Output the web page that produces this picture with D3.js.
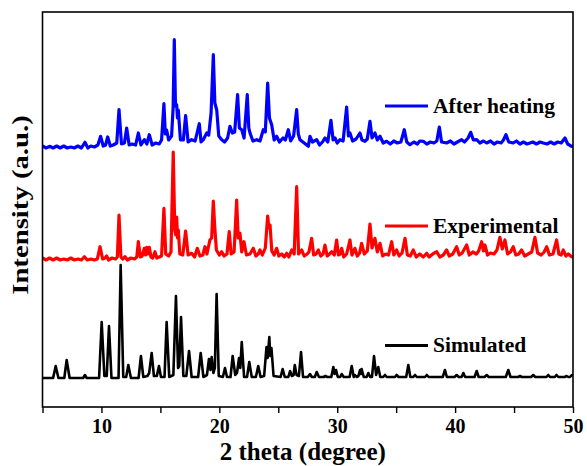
<!DOCTYPE html>
<html>
<head>
<meta charset="utf-8">
<script src="https://cdn.jsdelivr.net/npm/d3@7"></script>
<style>
  html, body { margin: 0; padding: 0; background: #fff; }
  svg { display: block; }
  text { font-family: "Liberation Serif", "Times New Roman", serif; font-weight: bold; fill: #000; }
</style>
</head>
<body>
<script>
// Powder XRD patterns: [2θ (degree), intensity above the pattern's own baseline (a.u.)]
const simulatedPattern = [
  [5.0,0],[5.9,0],[6.12,12],[6.35,0],[6.85,0],[7.05,18],[7.3,0],[8.45,0],[8.6,3],[8.75,0],
  [9.8,0],[10.02,56],[10.25,2],[10.45,2],[10.64,52],[10.85,0],[11.45,0],[11.63,113],[11.85,1],
  [12.1,1],[12.28,13],[12.5,0],[13.15,0],[13.35,22],[13.55,1],[13.9,2],[14.05,5],[14.26,25],
  [14.45,2],[14.7,2],[14.88,12],[15.05,1],[15.35,1],[15.53,56],[15.75,1],[16.1,3],[16.32,82],
  [16.5,10],[16.6,12],[16.75,61],[16.95,2],[17.2,2],[17.43,27],[17.65,1],[18.2,1],[18.42,25],
  [18.65,1],[18.95,3],[19.12,19],[19.25,8],[19.35,21],[19.5,5],[19.62,10],[19.77,84],[19.95,2],
  [20.3,1],[20.48,10],[20.65,1],[20.95,1],[21.13,22],[21.35,3],[21.5,5],[21.67,20],[21.78,10],
  [21.9,36],[22.1,1],[22.35,1],[22.54,16],[22.75,1],[23.1,1],[23.3,12],[23.5,1],[23.8,2],
  [24.0,31],[24.1,20],[24.24,41],[24.32,22],[24.42,30],[24.6,2],[25.2,1],[25.37,9],[25.55,1],
  [25.85,1],[26.0,7],[26.15,2],[26.3,3],[26.4,13],[26.55,3],[26.75,2],[26.93,26],[27.1,1],
  [27.5,1],[27.69,4],[27.85,1],[28.1,1],[28.26,6],[28.45,1],[28.85,1],[29.0,2],[29.15,1],
  [29.5,1],[29.67,11],[29.78,4],[29.9,8],[30.05,1],[30.25,1],[30.38,4],[30.55,1],[31.05,1],
  [31.23,12],[31.4,1],[31.5,3],[31.65,1],[31.8,2],[31.93,8],[32.0,4],[32.07,9],[32.25,1],
  [32.5,1],[32.64,5],[32.8,1],[32.95,1],[33.12,22],[33.3,3],[33.48,11],[33.65,1],[33.9,1],
  [34.05,3],[34.2,1],[34.9,1],[35.04,3],[35.2,1],[35.85,1],[36.03,13],[36.2,1],[36.45,1],
  [36.6,3],[36.75,1],[37.45,1],[37.6,3],[37.75,1],[38.95,1],[39.14,8],[39.3,1],[39.95,1],
  [40.13,3],[40.3,1],[40.55,1],[40.7,5],[40.85,1],[41.65,1],[41.83,7],[42.0,1],[42.5,1],
  [42.68,3],[42.85,1],[44.3,1],[44.51,8],[44.7,1],[45.35,1],[45.5,2],[45.65,1],[46.45,1],
  [46.63,3],[46.8,1],[47.75,1],[47.9,3],[48.05,1],[48.45,1],[48.6,3],[48.75,1],[49.3,1],
  [49.46,2],[49.6,1],[49.75,1],[49.9,3],[50.0,2]
];

const experimentalPattern = [
  [5.0,2],[5.3,0],[5.6,2],[5.9,0],[6.2,2],[6.5,0],[6.8,1],[7.1,0],[7.4,2],[7.7,0],[8.0,1],
  [8.3,0],[8.55,3.3],[8.8,0],[9.1,1],[9.4,0],[9.65,1],[9.88,13.3],[10.1,1],[10.3,2],[10.44,4],
  [10.6,0],[10.9,2],[11.2,1],[11.35,3],[11.49,45],[11.65,3],[11.8,1],[12.0,3.3],[12.2,0],
  [12.5,2],[12.8,1],[13.0,3],[13.13,18.3],[13.3,3],[13.45,4],[13.64,11.7],[13.74,5],[13.84,12.7],
  [13.95,6],[14.06,12.7],[14.2,3],[14.35,2],[14.54,8.3],[14.7,2],[14.9,3],[15.1,4],[15.3,51.7],
  [15.45,6],[15.7,4],[15.9,8],[16.09,108],[16.22,30],[16.3,25],[16.38,43],[16.46,22],[16.52,30],
  [16.65,6],[16.9,5],[17.14,29],[17.35,5],[17.65,6.7],[17.9,3],[18.13,11.7],[18.35,4],[18.6,5],
  [18.78,13.3],[18.95,6],[19.2,20],[19.35,22],[19.49,59],[19.6,35],[19.75,10],[20.0,5],[20.2,8.3],
  [20.4,4],[20.65,6],[20.84,28.3],[21.0,6],[21.25,8],[21.47,60],[21.6,22],[21.75,26.7],[21.9,8],
  [22.09,18.3],[22.3,5],[22.6,6],[22.88,11.7],[23.1,4],[23.3,6],[23.45,10],[23.65,5],[23.9,12],
  [24.1,44],[24.2,32],[24.3,35],[24.45,9],[24.65,5],[24.86,11.7],[25.05,4],[25.3,6],[25.5,3],
  [25.71,6.7],[25.9,3],[26.14,10],[26.35,6],[26.56,73.3],[26.72,6],[26.99,10],[27.2,4],[27.45,6],
  [27.6,8],[27.83,21.7],[28.0,5],[28.2,6],[28.4,10],[28.6,4],[28.8,6],[28.96,15],[29.15,4],
  [29.35,6],[29.53,8.3],[29.75,5],[29.95,20],[30.1,5],[30.25,6],[30.38,11.7],[30.55,3],[30.8,6],
  [31.08,20],[31.25,5],[31.5,11.7],[31.7,4],[31.9,7],[32.07,16.7],[32.3,6],[32.55,9],[32.78,36],
  [32.95,12],[33.2,21.7],[33.4,8],[33.63,16.7],[33.85,4],[34.1,6],[34.35,5],[34.62,18.3],[34.8,5],
  [35.04,10],[35.25,4],[35.5,7],[35.75,21.7],[35.95,5],[36.2,4],[36.45,10],[36.7,3],[37.0,6],
  [37.3,3],[37.59,6.7],[37.8,3],[38.1,6],[38.44,8.3],[38.7,3],[39.0,5],[39.28,10],[39.5,4],
  [39.8,6],[40.13,13.3],[40.35,5],[40.6,7],[40.98,15],[41.2,5],[41.5,8],[41.8,6],[42.0,9],
  [42.25,18.3],[42.4,9],[42.53,15],[42.75,5],[43.0,7],[43.3,6],[43.55,10],[43.8,22.7],[44.0,11],
  [44.23,20],[44.45,6],[44.7,8],[44.93,13.3],[45.15,5],[45.4,6],[45.64,10],[45.9,4],[46.2,6],
  [46.5,8],[46.77,22.7],[47.0,7],[47.3,5],[47.55,8],[47.77,13.3],[48.0,5],[48.3,6],[48.61,20],
  [48.8,6],[49.0,5],[49.17,10],[49.4,4],[49.6,6],[49.88,3.3],[50.0,3]
];

const afterHeatingPattern = [
  [5.0,2],[5.3,0],[5.64,1.7],[5.9,0],[6.2,2],[6.5,0],[6.8,2],[7.1,0],[7.4,1],[7.7,0],[8.0,2],
  [8.3,0],[8.6,5.7],[8.85,0],[9.1,2],[9.4,1],[9.7,3],[9.93,11.7],[10.15,2],[10.35,3],[10.53,11],
  [10.75,2],[11.0,3],[11.3,5],[11.49,38.3],[11.7,4],[11.95,5],[12.14,20],[12.35,3],[12.6,4],
  [12.9,3],[13.13,15],[13.35,3],[13.64,8.3],[13.85,4],[14.06,13.3],[14.3,3],[14.6,5],[14.9,4],
  [15.1,8],[15.3,44.3],[15.42,14],[15.53,18],[15.7,8],[15.95,12],[16.08,40],[16.18,108.3],
  [16.28,42],[16.38,43.3],[16.45,30],[16.52,38],[16.7,8],[16.95,8],[17.14,32.3],[17.35,6],
  [17.65,8.3],[17.95,7],[18.3,24.3],[18.45,6],[18.64,8.3],[18.93,15],[19.1,13],[19.3,35],
  [19.49,93.3],[19.62,45],[19.78,38],[19.95,12],[20.2,8.3],[20.45,6],[20.7,10],[20.9,21.7],
  [21.1,15],[21.3,16],[21.55,53.3],[21.7,20],[21.9,18.3],[22.1,10],[22.37,53.3],[22.5,20],
  [22.6,15],[22.85,7],[23.17,8.3],[23.45,7],[23.73,18.3],[23.9,16],[24.1,65],[24.25,30],
  [24.44,23.3],[24.65,8],[24.86,11.7],[25.1,6],[25.4,10],[25.6,8],[25.85,18.3],[26.05,7],
  [26.3,12],[26.56,38.3],[26.7,14],[26.84,8.3],[27.2,5],[27.55,1.7],[27.69,11.7],[27.9,6],
  [28.26,8.3],[28.5,3],[28.75,6],[28.96,10],[29.2,6],[29.47,27.7],[29.65,8],[29.81,10],[30.0,5],
  [30.23,8.3],[30.5,7],[30.8,41],[30.95,12],[31.08,15],[31.3,7],[31.6,9],[31.93,15],[32.1,8],
  [32.35,6.7],[32.55,9],[32.78,26.7],[32.95,10],[33.2,15],[33.4,8],[33.63,11.7],[33.9,5],
  [34.19,6.7],[34.5,4],[34.8,7],[35.1,5],[35.4,6],[35.69,18.3],[35.9,6],[36.17,3.3],[36.5,6],
  [36.8,4],[37.0,7],[37.3,6.7],[37.6,4],[37.9,6],[38.2,5],[38.45,7],[38.66,21],[38.85,6],
  [39.28,5],[39.6,7],[39.9,4],[40.2,6],[40.55,8.3],[40.8,6],[41.1,10],[41.32,15.7],[41.55,8],
  [41.83,8.3],[42.1,5],[42.4,7],[42.68,5],[43.0,7],[43.3,4],[43.6,6],[43.9,5],[44.1,8],
  [44.31,13.3],[44.55,6],[44.93,5],[45.2,7],[45.5,4],[45.8,6],[46.1,4],[46.35,5],[46.6,6],
  [46.9,4],[47.2,6],[47.48,5],[47.8,4],[48.1,6],[48.4,4],[48.7,6],[49.0,5],[49.32,10],
  [49.55,4],[49.88,1.7],[50.0,2]
];

// Series names, colours and vertical stacking offsets (a.u.)
const seriesNames = ["After heating", "Experimental", "Simulated"];
const seriesColors = ["#0000ff", "#ff0000", "#000000"];
const seriesOffsets = [259, 147, 29];
const seriesData = [afterHeatingPattern, experimentalPattern, simulatedPattern];

const xMajorTicks = [10, 20, 30, 40, 50];
const xMinorTicks = [5, 15, 25, 35, 45];
const xDomain = [5, 50];
const yDomain = [0, 395];

const W = 587, H = 466;
const margin = { left: 42.5, right: 14, top: 12, bottom: 59 };
const plotW = W - margin.left - margin.right;
const plotH = H - margin.top - margin.bottom;

const svg = d3.select("body").append("svg")
  .attr("width", W).attr("height", H)
  .style("background", "#fff");

const x = d3.scaleLinear().domain(xDomain).range([margin.left, margin.left + plotW]);
const y = d3.scaleLinear().domain(yDomain).range([margin.top + plotH, margin.top]);

svg.append("clipPath").attr("id", "plot-clip")
  .append("rect")
  .attr("x", margin.left).attr("y", margin.top)
  .attr("width", plotW).attr("height", plotH);

// Patterns
const plot = svg.append("g").attr("clip-path", "url(#plot-clip)");
seriesData.forEach((pattern, i) => {
  const line = d3.line()
    .x(d => x(d[0]))
    .y(d => y(d[1] + seriesOffsets[i]));
  plot.append("path")
    .datum(pattern)
    .attr("fill", "none")
    .attr("stroke", seriesColors[i])
    .attr("stroke-width", i === 2 ? 2.6 : 3.2)
    .attr("stroke-linejoin", "round")
    .attr("d", line);
});

// Frame
svg.append("rect")
  .attr("x", margin.left).attr("y", margin.top)
  .attr("width", plotW).attr("height", plotH)
  .attr("fill", "none").attr("stroke", "#000").attr("stroke-width", 1.6);

// Bottom axis: labelled major ticks plus unlabelled minor ticks
const xAxis = d3.axisBottom(x)
  .tickValues(xMajorTicks.concat(xMinorTicks))
  .tickSize(6)
  .tickFormat(d => xMajorTicks.includes(d) ? d3.format("d")(d) : "");
const gx = svg.append("g")
  .attr("transform", `translate(0,${margin.top + plotH})`)
  .call(xAxis);
gx.select(".domain").remove();
gx.selectAll(".tick line").attr("stroke", "#000").attr("stroke-width", 1.4);
gx.selectAll(".tick text")
  .attr("y", 26).attr("dy", null)
  .style("font-family", "'Liberation Serif', 'Times New Roman', serif")
  .style("font-weight", "bold")
  .style("font-size", "20px")
  .attr("fill", "#000");

// Axis titles
svg.append("text")
  .attr("x", margin.left + plotW / 2 - 5)
  .attr("y", 459.5)
  .attr("text-anchor", "middle")
  .style("font-size", "25px")
  .text("2 theta (degree)");

svg.append("text")
  .attr("transform", `translate(27.5,205) rotate(-90) scale(1.25,1)`)
  .attr("text-anchor", "middle")
  .style("font-size", "23px")
  .text("Intensity (a.u.)");

// Legend entries beside each pattern
const legendY = [106, 226, 345.5];
seriesNames.forEach((name, i) => {
  const g = svg.append("g");
  g.append("line")
    .attr("x1", 385).attr("x2", 428)
    .attr("y1", legendY[i]).attr("y2", legendY[i])
    .attr("stroke", seriesColors[i]).attr("stroke-width", 3);
  g.append("text")
    .attr("x", 433).attr("y", legendY[i] + 6.5)
    .style("font-size", "21.5px")
    .text(name);
});
</script>
</body>
</html>
